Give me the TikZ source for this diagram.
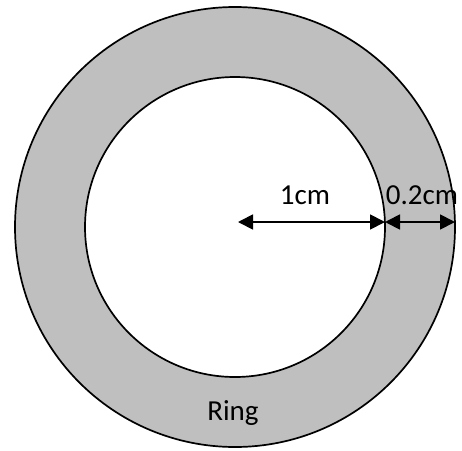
\documentclass[tikz,border=0pt]{standalone}
\usepackage{fontspec}
\setmainfont{Carlito}
\usetikzlibrary{arrows.meta}
\definecolor{ringgray}{RGB}{191,191,191}

\begin{document}
\begin{tikzpicture}[x=1pt,y=-1pt,line width=1.7pt,
  disk/.style={circle,draw,inner sep=0pt},
  dim/.style={{Triangle[length=15pt,width=15pt]}-{Triangle[length=15pt,width=15pt]},line width=1.8pt},
  lab/.style={font=\fontsize{29}{34}\selectfont,inner sep=0pt}]
  \useasboundingbox (0,0) rectangle (462,450);

  % Circles
  \node[disk,fill=ringgray,minimum size=440pt] (outer) at (235,227) {};
  \node[disk,fill=white,minimum size=300pt] (inner) at (235,227) {};

  % Dimension arrows
  \coordinate (c) at (238,222);
  \coordinate (rin) at (385,222);
  \coordinate (rout) at (455,222);
  \draw[dim] (c) -- (rin);
  \draw[dim] (rin) -- (rout);

  % Labels
  \node[lab] (r1) at (305,195) {1cm};
  \node[lab,anchor=west] (r2) at (385,195) {0.2cm};
  \node[lab] (ring) at (233,413) {Ring};
\end{tikzpicture}
\end{document}
